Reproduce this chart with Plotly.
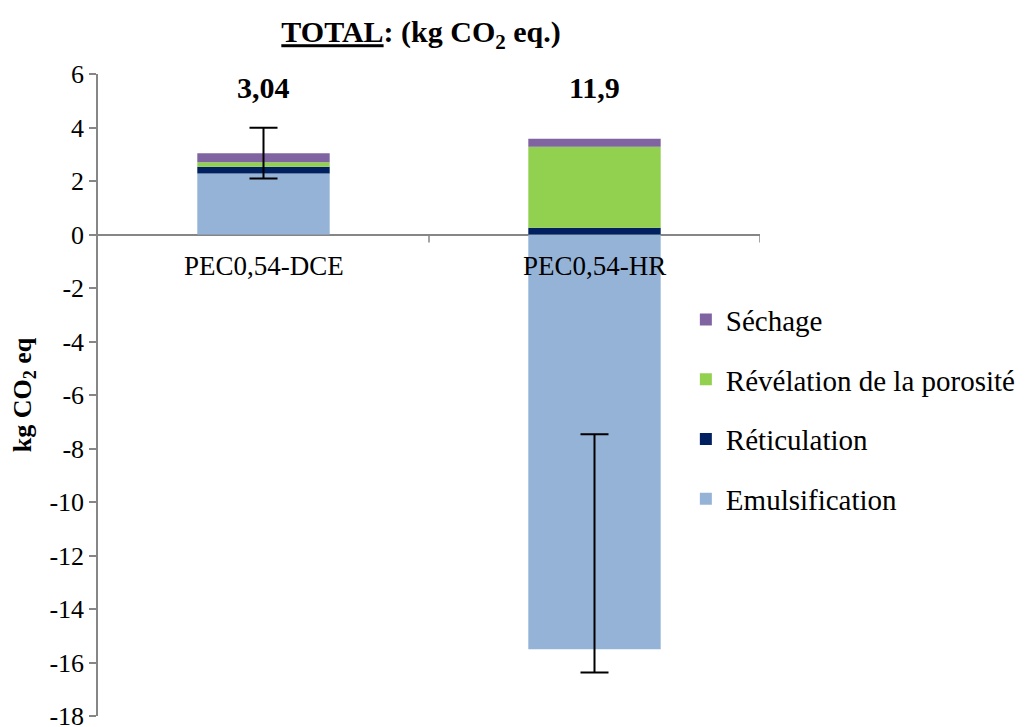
import plotly.graph_objects as go

categories = ["PEC0,54-DCE", "PEC0,54-HR"]
emulsification = [2.28, -15.50]
reticulation = [0.25, 0.25]
revelation = [0.17, 3.03]
sechage = [0.34, 0.30]
total_labels = ["3,04", "11,9"]
error_values = [0.95, 4.45]
y_ticks = [-18, -16, -14, -12, -10, -8, -6, -4, -2, 0, 2, 4, 6]

series = [
    ("Emulsification", emulsification, "#95B3D7"),
    ("Réticulation", reticulation, "#002060"),
    ("Révélation de la porosité", revelation, "#92D050"),
    ("Séchage", sechage, "#8064A2"),
]

FONT = "Liberation Serif"
AXIS = "#868686"

fig = go.Figure()
n = len(series)
for i, (name, vals, color) in enumerate(series):
    fig.add_trace(go.Bar(
        x=categories, y=vals, name=name, width=0.4,
        marker=dict(color=color, line=dict(width=0)),
        legendgroup=f"g{i}", legendrank=n - i,
    ))

totals = [sum(v[k] for _, v, _ in series) for k in range(len(categories))]
fig.add_trace(go.Scatter(
    x=categories, y=totals, mode="markers",
    marker=dict(size=1, opacity=0), showlegend=False, hoverinfo="skip",
    error_y=dict(type="data", array=error_values, visible=True,
                 color="black", thickness=2, width=14),
))

# category labels under the zero line
for cat in categories:
    fig.add_annotation(x=cat, y=0, text=cat, showarrow=False,
                       yanchor="top", yshift=-14,
                       font=dict(family=FONT, size=27, color="black"))
# total labels
for cat, lab in zip(categories, total_labels):
    fig.add_annotation(x=cat, y=5.5, text=f"<b>{lab}</b>", showarrow=False,
                       yanchor="middle",
                       font=dict(family=FONT, size=30, color="black"))

# category-boundary ticks on the zero line
for k in range(len(categories)):
    fig.add_shape(type="line", xref="x", yref="y", x0=k + 0.5, x1=k + 0.5,
                  ysizemode="pixel", yanchor=0, y0=0, y1=-8,
                  line=dict(color=AXIS, width=1.5))

fig.update_layout(
    width=1022, height=719,
    margin=dict(l=90, r=270, t=66, b=11, autoexpand=False),
    paper_bgcolor="white", plot_bgcolor="white",
    barmode="relative",
    font=dict(family=FONT, color="black"),
    title=dict(text="<b><u>TOTAL</u>: (kg CO<sub>2</sub> eq.)</b>",
               x=0.488, xref="paper", xanchor="center",
               y=0.967, yref="container", yanchor="middle",
               font=dict(family=FONT, size=30, color="black")),
    xaxis=dict(range=[-0.5, 1.5], showticklabels=False, showline=False,
               showgrid=False, zeroline=False, ticks="", automargin=False),
    yaxis=dict(range=[-18, 6], tickvals=y_ticks,
               ticktext=[str(t) for t in y_ticks], automargin=False,
               ticklabeloverflow="allow",
               showgrid=False, showline=True, linecolor=AXIS, linewidth=1.5,
               ticks="outside", ticklen=7, tickcolor=AXIS, tickwidth=1.5,
               zeroline=True, zerolinecolor=AXIS, zerolinewidth=1.5,
               tickfont=dict(family=FONT, size=26, color="black"),
               title=dict(text="<b>kg CO<sub>2</sub> eq</b>", standoff=14,
                          font=dict(family=FONT, size=26, color="black"))),
    legend=dict(x=0.888, y=0.657, xanchor="left", yanchor="top",
                traceorder="grouped", tracegroupgap=19,
                font=dict(family=FONT, size=29, color="black"),
                bgcolor="rgba(0,0,0,0)"),
    showlegend=True,
)

fig.write_html("out.html")
